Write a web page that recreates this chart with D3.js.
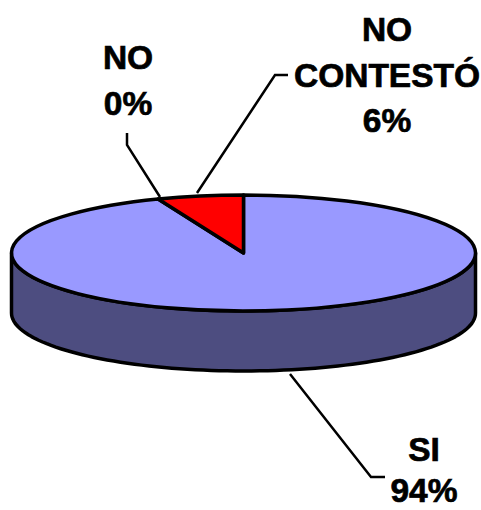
<!DOCTYPE html>
<html>
<head>
<meta charset="utf-8">
<script src="https://cdnjs.cloudflare.com/ajax/libs/d3/7.8.5/d3.min.js"></script>
<style>
    html, body { margin: 0; padding: 0; background: #fff; }
    svg { display: block; }
    text { font-family: "Liberation Sans", Arial, sans-serif; font-weight: bold; font-size: 33.5px; fill: #000; stroke: #000; stroke-width: 0.7px; text-anchor: middle; }
</style>
</head>
<body>
<div id="viz"></div>
<script>
var categories = ['SI', 'NO', 'NO CONTESTÓ'];
var values = [94, 0, 6];
var colors = ['#9999ff', '#ff0000', '#ff0000'];
var sideColor = '#4d4d80';

var width = 481, height = 510;
var cx = 243.5, cy = 253, rx = 232, ry = 58, depth = 60;

var svg = d3.select('#viz').append('svg').attr('width', width).attr('height', height);

var slices = d3.pie().sort(null)(values);

// side wall, front half of the ellipse only
var frontAngles = d3.range(90, 270.5, 2).map(function(d) { return d * Math.PI / 180; });
var ex = function(a) { return cx + rx * Math.sin(a); };
var ey = function(a) { return cy - ry * Math.cos(a); };
var side = d3.area()
    .x(ex)
    .y0(ey)
    .y1(function(a) { return ey(a) + depth; });

svg.append('path')
    .attr('d', side(frontAngles))
    .attr('fill', sideColor)
    .attr('stroke', '#000')
    .attr('stroke-width', 3.5)
    .attr('stroke-linejoin', 'round');

// top face, a flat pie squashed into an ellipse
var arc = d3.arc().innerRadius(0).outerRadius(rx);
var top_ = svg.append('g').attr('transform', 'translate(' + cx + ',' + cy + ') scale(1,' + (ry / rx) + ')');
top_.selectAll('path')
    .data(slices.filter(function(d) { return d.value > 0; }))
    .enter().append('path')
    .attr('d', arc)
    .attr('fill', function(d) { return colors[d.index]; })
    .attr('stroke', '#000')
    .attr('stroke-width', 3.5)
    .attr('stroke-linejoin', 'round')
    .attr('vector-effect', 'non-scaling-stroke');

// leader lines
var leaders = [
    [[290, 374], [371, 477], [385, 477]],
    [[160, 197], [127, 145], [127, 133]],
    [[197, 193], [275, 75], [288, 75]]
];
var line = d3.line();
svg.selectAll('.leader')
    .data(leaders)
    .enter().append('path')
    .attr('class', 'leader')
    .attr('d', line)
    .attr('fill', 'none')
    .attr('stroke', '#000')
    .attr('stroke-width', 2.5);

// labels
var labels = [
    { x: 424, lines: [['SI', 461], ['94%', 502]] },
    { x: 128, lines: [['NO', 69], ['0%', 115]] },
    { x: 387, lines: [['NO', 41], ['CONTESTÓ', 87], ['6%', 132]] }
];
labels.forEach(function(l) {
    l.lines.forEach(function(t) {
        svg.append('text').attr('x', l.x).attr('y', t[1]).text(t[0]);
    });
});
</script>
</body>
</html>
